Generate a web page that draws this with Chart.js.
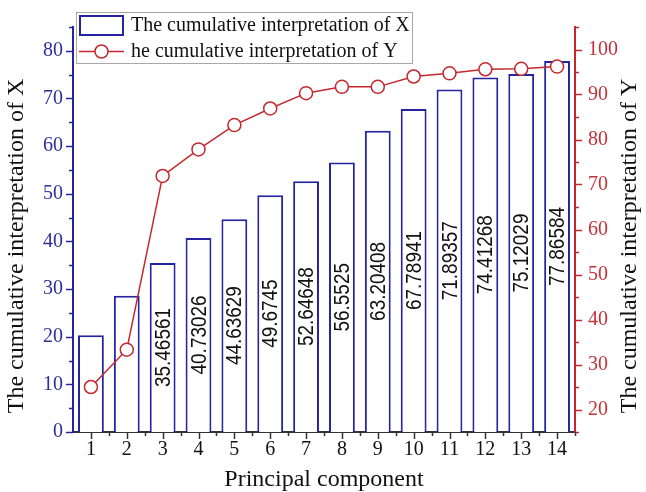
<!DOCTYPE html>
<html>
<head>
<meta charset="utf-8">
<script src="https://cdn.jsdelivr.net/npm/chart.js@4.4.0/dist/chart.umd.min.js"></script>
<style>
  html, body { margin: 0; padding: 0; background: #fff; }
  #wrap { width: 646px; height: 492px; }
</style>
</head>
<body>
<div id="wrap"><canvas id="chart_pc" width="646" height="492"></canvas></div>
<script>

// data
const components = ['1', '2', '3', '4', '5', '6', '7', '8', '9', '10', '11', '12', '13', '14'];
const cumulativeX = [20.3, 28.6, 35.46561, 40.73026, 44.63629, 49.6745, 52.64648, 56.5525,
                     63.20408, 67.78941, 71.89357, 74.41268, 75.12029, 77.86584];
const cumulativeY = [25.0, 33.3, 71.9, 77.8, 83.2, 86.9, 90.3, 91.7, 91.7, 94.0, 94.7, 95.6, 95.7, 96.2];
const barLabels = ['', '', '35.46561', '40.73026', '44.63629', '49.6745', '52.64648', '56.5525',
                   '63.20408', '67.78941', '71.89357', '74.41268', '75.12029', '77.86584'];
const leftTicks = [0, 10, 20, 30, 40, 50, 60, 70, 80];
const rightTicks = [20, 30, 40, 50, 60, 70, 80, 90, 100];

const seriesXName = 'The cumulative interpretation of X';
const seriesYName = 'he cumulative interpretation of Y';
const titleLeft = 'The cumulative interpretation of X';
const titleRight = 'The cumulative interpretation of Y';
const titleBottom = 'Principal component';

const blue = '#2424a0';
const blueText = '#2f2f9c';
const red = '#c4282e';
const redText = '#c43238';
const serif = '"Liberation Serif", "Times New Roman", serif';

// labels written vertically in the middle of each bar (narrowed sans, like Arial Narrow)
const barTextPlugin = {
  id: 'barText',
  afterDatasetDraw(chart, args) {
    if (args.index !== 0) return;
    const ctx = chart.ctx;
    const meta = chart.getDatasetMeta(0);
    ctx.save();
    ctx.fillStyle = '#111';
    ctx.font = '22px "Liberation Sans", Arial, sans-serif';
    ctx.textAlign = 'center';
    ctx.textBaseline = 'middle';
    meta.data.forEach((bar, i) => {
      if (!barLabels[i]) return;
      ctx.save();
      ctx.translate(bar.x + 1, (bar.y + bar.base) / 2);
      ctx.rotate(-Math.PI / 2);
      ctx.scale(0.86, 1);
      ctx.fillText(barLabels[i], 0, 0);
      ctx.restore();
    });
    ctx.restore();
  }
};

// major and minor tick marks, Origin style
const tickMarksPlugin = {
  id: 'tickMarks',
  afterDraw(chart) {
    const ctx = chart.ctx;
    const yl = chart.scales.yLeft, yr = chart.scales.yRight, x = chart.scales.x;
    ctx.save();
    ctx.lineWidth = 1.5;

    ctx.strokeStyle = blue;
    for (let v = 0; v <= 85; v += 5) {
      const py = Math.round(yl.getPixelForValue(v)) + 0.5;
      const len = v % 10 === 0 ? 7 : 4;
      ctx.beginPath(); ctx.moveTo(yl.right, py); ctx.lineTo(yl.right - len, py); ctx.stroke();
    }

    ctx.strokeStyle = red;
    for (let v = 15; v <= 105; v += 5) {
      const py = Math.round(yr.getPixelForValue(v)) + 0.5;
      const len = v % 10 === 0 ? 7 : 4;
      ctx.beginPath(); ctx.moveTo(yr.left, py); ctx.lineTo(yr.left + len, py); ctx.stroke();
    }

    ctx.strokeStyle = '#333';
    for (let i = 0; i < components.length; i++) {
      const px = Math.round(x.getPixelForValue(i)) + 0.5;
      ctx.beginPath(); ctx.moveTo(px, x.top); ctx.lineTo(px, x.top + 7); ctx.stroke();
      const half = Math.round(x.getPixelForValue(i + 0.5)) + 0.5;
      ctx.beginPath(); ctx.moveTo(half, x.top); ctx.lineTo(half, x.top + 4); ctx.stroke();
    }
    ctx.restore();
  }
};

// vertical axis titles, and the boxed legend in the upper left corner
const decorPlugin = {
  id: 'decor',
  afterDraw(chart) {
    const ctx = chart.ctx;
    const area = chart.chartArea;
    ctx.save();
    ctx.font = '24px ' + serif;
    ctx.fillStyle = '#111';
    ctx.textAlign = 'center';
    ctx.textBaseline = 'middle';
    [[17, titleLeft], [630, titleRight]].forEach(([tx, txt]) => {
      ctx.save();
      ctx.translate(tx, 246);
      ctx.rotate(-Math.PI / 2);
      ctx.fillText(txt, 0, 0);
      ctx.restore();
    });

    const lx = area.left + 3, ly = 12, lw = 336, lh = 51;
    ctx.fillStyle = '#fff';
    ctx.fillRect(lx, ly, lw, lh);
    ctx.strokeStyle = '#a8a8a8';
    ctx.lineWidth = 1;
    ctx.strokeRect(lx + 0.5, ly + 0.5, lw, lh);

    ctx.strokeStyle = blue;
    ctx.lineWidth = 2;
    ctx.strokeRect(lx + 4, ly + 4, 43, 19);

    ctx.strokeStyle = red;
    ctx.lineWidth = 1.5;
    ctx.beginPath(); ctx.moveTo(lx + 3, ly + 39.5); ctx.lineTo(lx + 48, ly + 39.5); ctx.stroke();
    ctx.beginPath(); ctx.arc(lx + 25.5, ly + 39.5, 6.5, 0, Math.PI * 2);
    ctx.fillStyle = '#fff'; ctx.fill(); ctx.stroke();

    ctx.font = '20px ' + serif;
    ctx.fillStyle = '#111';
    ctx.textAlign = 'left';
    ctx.fillText(chart.data.datasets[0].label, lx + 55, ly + 14);
    ctx.fillText(chart.data.datasets[1].label, lx + 55, ly + 40);
    ctx.restore();
  }
};

const config_pc = {
  data: {
    labels: components,
    datasets: [
      {
        type: 'bar',
        label: seriesXName,
        data: cumulativeX,
        yAxisID: 'yLeft',
        backgroundColor: '#ffffff',
        borderColor: blue,
        borderWidth: 2,
        barPercentage: 0.72,
        categoryPercentage: 1.0,
        order: 2
      },
      {
        type: 'line',
        label: seriesYName,
        data: cumulativeY,
        yAxisID: 'yRight',
        borderColor: red,
        borderWidth: 1.5,
        pointRadius: 6.5,
        pointBorderWidth: 1.5,
        pointBackgroundColor: '#ffffff',
        pointBorderColor: red,
        tension: 0,
        order: 1
      }
    ]
  },
  options: {
    responsive: false,
    animation: false,
    devicePixelRatio: 1,
    layout: { padding: { top: 27, left: 0, right: 0, bottom: 0 } },
    plugins: {
      legend: { display: false },
      tooltip: { enabled: false }
    },
    scales: {
      x: {
        type: 'category',
        offset: true,
        grid: { display: false, drawTicks: false },
        border: { display: true, color: '#333', width: 2 },
        ticks: { color: '#111', padding: 6, font: { family: serif, size: 20 }, maxRotation: 0 },
        title: {
          display: true, text: titleBottom, color: '#111',
          font: { family: serif, size: 24 }, padding: { top: 0, bottom: -2 }
        },
        afterFit(scale) { scale.height = 60; }
      },
      yLeft: {
        type: 'linear',
        position: 'left',
        min: 0,
        max: 85,
        grid: { display: false, drawTicks: false },
        border: { display: true, color: blue, width: 2 },
        ticks: { color: blueText, padding: 10, font: { family: serif, size: 20 } },
        afterBuildTicks(scale) { scale.ticks = leftTicks.map(v => ({ value: v })); },
        afterFit(scale) { scale.width = 73; }
      },
      yRight: {
        type: 'linear',
        position: 'right',
        min: 15,
        max: 105,
        grid: { display: false, drawTicks: false },
        border: { display: true, color: red, width: 2 },
        ticks: { color: redText, padding: 13, font: { family: serif, size: 20 } },
        afterBuildTicks(scale) { scale.ticks = rightTicks.map(v => ({ value: v })); },
        afterFit(scale) { scale.width = 71; }
      }
    }
  },
  plugins: [barTextPlugin, tickMarksPlugin, decorPlugin]
};

const ctx_pc = document.getElementById('chart_pc').getContext('2d');
const myChart_pc = new Chart(ctx_pc, config_pc);

</script>
</body>
</html>
